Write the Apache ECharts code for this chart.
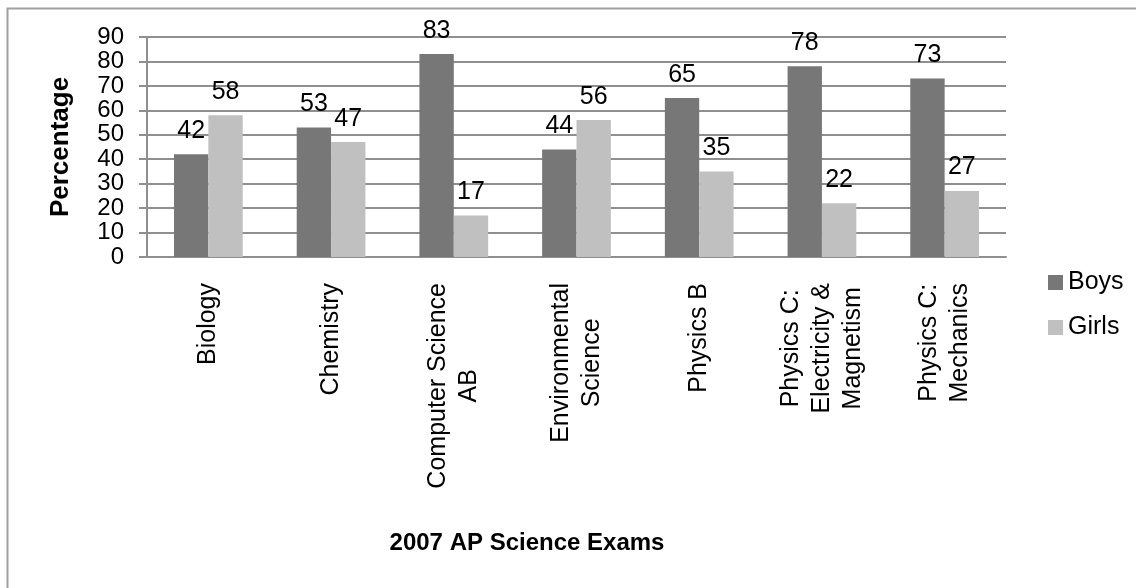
<!DOCTYPE html>
<html>
<head>
<meta charset="utf-8">
<title>2007 AP Science Exams</title>
<script src="https://cdn.jsdelivr.net/npm/echarts@6/dist/echarts.min.js"></script>
<style>
    html, body { margin: 0; padding: 0; background: #fff; }
    #main { width: 1136px; height: 588px; }
</style>
</head>
<body>
<div id="main"></div>
<script>
    // data
    var categories = [
        ['Biology'],
        ['Chemistry'],
        ['Computer Science', 'AB'],
        ['Environmental', 'Science'],
        ['Physics B'],
        ['Physics C:', 'Electricity &', 'Magnetism'],
        ['Physics C:', 'Mechanics']
    ];
    var boys = [42, 53, 83, 44, 65, 78, 73];
    var girls = [58, 47, 17, 56, 35, 22, 27];

    var font = '"Liberation Sans", Arial, sans-serif';
    var gridColor = '#8f8f8f';

    var chart = echarts.init(document.getElementById('main'));

    var option = {
        backgroundColor: '#fff',
        textStyle: { fontFamily: font },
        color: ['#777777', '#c0c0c0'],
        animation: false,
        grid: {
            left: 147,
            right: 130,
            top: 37,
            bottom: 331
        },
        legend: {
            orient: 'vertical',
            left: 1043,
            top: 265,
            itemWidth: 15,
            itemHeight: 15,
            itemGap: 20,
            icon: 'rect',
            textStyle: { fontSize: 25, color: '#000', lineHeight: 25, fontFamily: font },
            data: ['Boys', 'Girls']
        },
        xAxis: {
            type: 'category',
            data: categories.map(function (c) { return c.join('\n'); }),
            axisLine: { lineStyle: { color: gridColor, width: 2 } },
            axisTick: { length: 7, lineStyle: { color: gridColor, width: 2 } },
            axisLabel: {
                rotate: 90,
                interval: 0,
                margin: 26,
                color: '#000',
                fontSize: 25,
                lineHeight: 31,
                // center each line of a wrapped label inside its block
                formatter: function (val) {
                    return val.split('\n').map(function (s) { return '{c|' + s + '}'; }).join('\n');
                },
                rich: {
                    c: { align: 'center', fontSize: 25, lineHeight: 31, color: '#000', fontFamily: font }
                }
            }
        },
        yAxis: {
            type: 'value',
            min: 0,
            max: 90,
            interval: 10,
            name: 'Percentage',
            nameLocation: 'middle',
            nameGap: 73,
            nameTextStyle: { fontSize: 26, fontWeight: 'bold', color: '#000', fontFamily: font },
            axisLine: { show: true, lineStyle: { color: gridColor, width: 2 } },
            axisTick: { show: true, length: 8, lineStyle: { color: gridColor, width: 2 } },
            axisLabel: { margin: 23, fontSize: 24, color: '#000', fontFamily: font },
            splitLine: { lineStyle: { color: gridColor, width: 2 } }
        },
        series: [
            {
                name: 'Boys',
                type: 'bar',
                data: boys,
                barGap: '0%',
                barCategoryGap: '44%',
                label: { show: true, position: 'top', distance: 11, fontSize: 25, color: '#000', fontFamily: font }
            },
            {
                name: 'Girls',
                type: 'bar',
                data: girls,
                label: { show: true, position: 'top', distance: 11, fontSize: 25, color: '#000', fontFamily: font }
            }
        ],
        graphic: [
            {
                // outer frame (only top and left edges fall inside the picture)
                type: 'rect',
                left: 5,
                top: 6,
                shape: { width: 1300, height: 800 },
                style: { fill: 'none', stroke: '#a0a0a0', lineWidth: 2 },
                silent: true
            },
            {
                type: 'text',
                x: 527,
                y: 543,
                style: {
                    text: '2007 AP Science Exams',
                    font: 'bold 24px ' + font,
                    fill: '#000',
                    textAlign: 'center',
                    textVerticalAlign: 'middle'
                }
            }
        ]
    };

    chart.setOption(option);
    window.addEventListener('resize', function () { chart.resize(); });
</script>
</body>
</html>
